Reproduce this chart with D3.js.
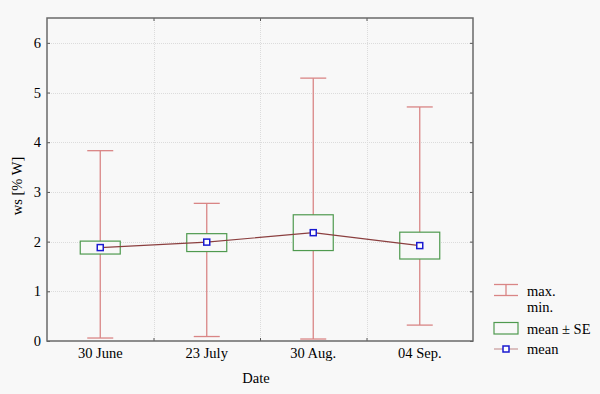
<!DOCTYPE html>
<html>
<head>
<meta charset="utf-8">
<script src="https://cdn.jsdelivr.net/npm/d3@7"></script>
<style>
	body { margin: 0; background: #f8f8f8; }
</style>
</head>
<body>
<svg id="chart" width="600" height="394"></svg>
<script>
/* Data */
const dates = ['30 June', '23 July', '30 Aug.', '04 Sep.'];
const maxVals = [3.83, 2.77, 5.29, 4.71];
const minVals = [0.06, 0.09, 0.04, 0.32];
const meanVals = [1.88, 1.99, 2.18, 1.92];
const seHigh = [2.01, 2.16, 2.54, 2.19];
const seLow = [1.75, 1.80, 1.82, 1.65];
const yTicks = [0, 1, 2, 3, 4, 5, 6];

/* Layout */
const plot = { left: 47, top: 18, right: 473, bottom: 341 };
const FONT = '"Liberation Serif"';
const whiskerCol = '#d98585';
const boxCol = '#4f9a4f';
const meanLineCol = '#8b3f3f';
const meanMarkCol = '#1a1ad0';

const svg = d3.select('#chart');
svg.append('rect').attr('width', 600).attr('height', 394).attr('fill', '#f8f8f8');

let x = d3.scaleBand().domain(dates).range([plot.left, plot.right]);
let y = d3.scaleLinear().domain([0, 6.5]).range([plot.bottom, plot.top]);
const cx = (d) => x(d) + x.bandwidth() / 2;

// every label goes through here so the serif face sticks
function label(sel) {
	return sel.style('font-family', FONT).style('font-size', '14.5px').attr('fill', '#000');
}

// grid
const grid = svg.append('g').attr('stroke', '#dcdcdc').attr('stroke-width', 1).attr('stroke-dasharray', '1,1');
yTicks.slice(1).forEach((t) => {
	grid.append('line').attr('x1', plot.left).attr('x2', plot.right)
		.attr('y1', Math.round(y(t)) + 0.5).attr('y2', Math.round(y(t)) + 0.5);
});
dates.slice(1).forEach((d) => {
	grid.append('line').attr('y1', plot.top).attr('y2', plot.bottom)
		.attr('x1', Math.round(x(d)) + 0.5).attr('x2', Math.round(x(d)) + 0.5);
});

// axes (ticks inward, labels drawn separately)
const xb = d3.scaleLinear().domain([0, 4]).range([plot.left, plot.right]);
[
	[d3.axisRight(y).tickValues(yTicks), `translate(${plot.left},0)`],
	[d3.axisLeft(y).tickValues(yTicks), `translate(${plot.right},0)`],
	[d3.axisTop(xb).tickValues([1, 2, 3]), `translate(0,${plot.bottom})`],
	[d3.axisBottom(xb).tickValues([1, 2, 3]), `translate(0,${plot.top})`]
].forEach(([ax, tr]) => {
	const g = svg.append('g').attr('transform', tr).call(ax.tickSize(3).tickFormat(''));
	g.select('.domain').remove();
	g.selectAll('line').attr('stroke', '#555');
});

// frame
svg.append('rect')
	.attr('x', plot.left).attr('y', plot.top)
	.attr('width', plot.right - plot.left).attr('height', plot.bottom - plot.top)
	.attr('fill', 'none').attr('stroke', '#6a6a6a').attr('stroke-width', 1.5);

// tick labels
svg.append('g').selectAll('text').data(yTicks).join('text')
	.attr('x', 41).attr('y', (d) => y(d) + 5)
	.attr('text-anchor', 'end').call(label)
	.text((d) => d);
svg.append('g').selectAll('text').data(dates).join('text')
	.attr('x', cx).attr('y', 358)
	.attr('text-anchor', 'middle').call(label)
	.text((d) => d);

// axis titles
svg.append('text').attr('x', 256).attr('y', 383).attr('text-anchor', 'middle').call(label).text('Date');
svg.append('text').attr('transform', 'translate(22,186) rotate(-90)')
	.attr('text-anchor', 'middle').call(label).text('ws [% W]');

// whiskers
const capW = 13;
const wk = svg.append('g').attr('stroke', whiskerCol).attr('stroke-width', 1.3);
dates.forEach((d, i) => {
	wk.append('line').attr('x1', cx(d)).attr('x2', cx(d)).attr('y1', y(maxVals[i])).attr('y2', y(minVals[i]));
	wk.append('line').attr('x1', cx(d) - capW).attr('x2', cx(d) + capW).attr('y1', y(maxVals[i])).attr('y2', y(maxVals[i]));
	wk.append('line').attr('x1', cx(d) - capW).attr('x2', cx(d) + capW).attr('y1', y(minVals[i])).attr('y2', y(minVals[i]));
});

// SE boxes
const boxW = 40;
svg.append('g').selectAll('rect').data(dates).join('rect')
	.attr('x', (d) => cx(d) - boxW / 2)
	.attr('y', (d, i) => y(seHigh[i]))
	.attr('width', boxW)
	.attr('height', (d, i) => y(seLow[i]) - y(seHigh[i]))
	.attr('fill', '#f8f8f8').attr('stroke', boxCol).attr('stroke-width', 1.2);

// mean line + markers
const line = d3.line().x((d, i) => cx(dates[i])).y((d) => y(d));
svg.append('path').datum(meanVals).attr('d', line)
	.attr('fill', 'none').attr('stroke', meanLineCol).attr('stroke-width', 1.2);
svg.append('g').selectAll('rect').data(meanVals).join('rect')
	.attr('x', (d, i) => cx(dates[i]) - 3).attr('y', (d) => y(d) - 3)
	.attr('width', 6).attr('height', 6)
	.attr('fill', '#fff').attr('stroke', meanMarkCol).attr('stroke-width', 1.5);

// legend
const lg = svg.append('g');
const lx = 494, lw = 24, tx = 527;
lg.append('line').attr('x1', lx).attr('x2', lx + lw).attr('y1', 284.5).attr('y2', 284.5).attr('stroke', whiskerCol).attr('stroke-width', 1.3);
lg.append('line').attr('x1', lx).attr('x2', lx + lw).attr('y1', 295.5).attr('y2', 295.5).attr('stroke', whiskerCol).attr('stroke-width', 1.3);
lg.append('line').attr('x1', lx + lw / 2).attr('x2', lx + lw / 2).attr('y1', 284.5).attr('y2', 295.5).attr('stroke', whiskerCol).attr('stroke-width', 1.3);
lg.append('text').attr('x', tx).attr('y', 296).call(label).text('max.');
lg.append('text').attr('x', tx).attr('y', 312).call(label).text('min.');
lg.append('rect').attr('x', lx).attr('y', 322.5).attr('width', lw).attr('height', 11.5)
	.attr('fill', 'none').attr('stroke', boxCol).attr('stroke-width', 1.2);
lg.append('text').attr('x', tx).attr('y', 334).call(label).text('mean ± SE');
lg.append('line').attr('x1', lx).attr('x2', lx + lw).attr('y1', 349).attr('y2', 349).attr('stroke', '#c89a9a').attr('stroke-width', 1.2);
lg.append('rect').attr('x', lx + lw / 2 - 3).attr('y', 346).attr('width', 6).attr('height', 6)
	.attr('fill', '#fff').attr('stroke', meanMarkCol).attr('stroke-width', 1.5);
lg.append('text').attr('x', tx).attr('y', 354).call(label).text('mean');
</script>
</body>
</html>
